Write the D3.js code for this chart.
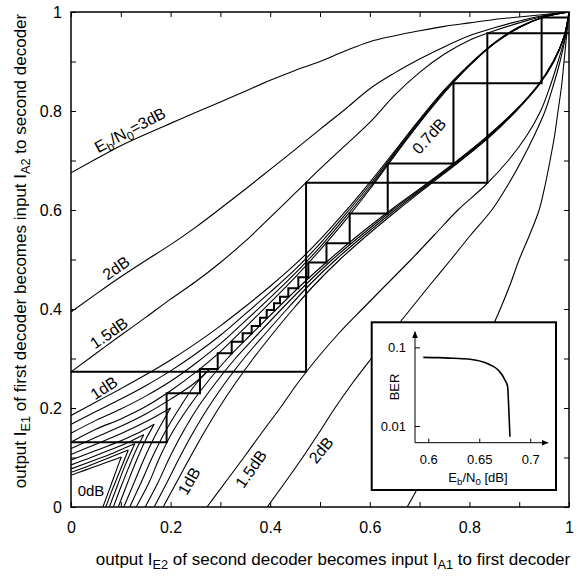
<!DOCTYPE html>
<html><head><meta charset="utf-8">
<script src="https://cdn.jsdelivr.net/npm/d3@7"></script>
<style>
body{margin:0;background:#fff;}
text{font-family:"Liberation Sans",Arial,Helvetica,sans-serif;fill:#000;}
</style></head><body>
<svg id="chart" width="581" height="576"></svg>
<script>
// ---------- data ----------
const iaGrid = [0,0.05,0.1,0.15,0.2,0.25,0.3,0.35,0.4,0.45,0.5,0.55,0.6,0.65,0.7,0.75,0.8,0.85,0.9,0.95,1];
const ie07 = [0.131,0.157,0.178,0.203,0.235,0.272,0.314,0.363,0.413,0.464,0.519,0.578,0.642,0.71,0.776,0.837,0.891,0.936,0.968,0.99,1];
const ie08 = [0.149,0.175,0.198,0.224,0.254,0.29,0.33,0.376,0.423,0.472,0.525,0.584,0.646,0.713,0.778,0.839,0.892,0.936,0.969,0.99,1];
const ie09 = [0.167,0.193,0.218,0.245,0.275,0.309,0.347,0.39,0.434,0.48,0.532,0.59,0.651,0.716,0.781,0.841,0.893,0.937,0.969,0.99,1];
const ie10 = [0.185,0.212,0.239,0.267,0.297,0.33,0.366,0.405,0.446,0.49,0.54,0.596,0.656,0.719,0.783,0.843,0.894,0.938,0.97,0.99,1];
const ie15 = [0.273,0.31,0.347,0.383,0.42,0.455,0.494,0.537,0.585,0.634,0.683,0.73,0.777,0.832,0.878,0.915,0.943,0.962,0.978,0.992,1];
const ie20 = [0.394,0.43,0.465,0.498,0.53,0.565,0.603,0.642,0.682,0.722,0.763,0.803,0.845,0.877,0.905,0.93,0.952,0.968,0.982,0.993,1];
const ie30 = [0.675,0.703,0.73,0.753,0.775,0.797,0.818,0.84,0.862,0.882,0.9,0.921,0.94,0.952,0.962,0.971,0.978,0.985,0.99,0.995,1];
// low-SNR curves end where they meet their mirror image
const ia00 = [0,0.03,0.06,0.085,0.101],  ie00 = [0.064,0.075,0.086,0.095,0.101];
const ia01 = [0,0.03,0.06,0.09,0.115],   ie01 = [0.07,0.081,0.093,0.105,0.115];
const ia02 = [0,0.04,0.08,0.11,0.128],   ie02 = [0.077,0.092,0.107,0.12,0.128];
const ia03 = [0,0.04,0.08,0.12,0.146],   ie03 = [0.085,0.1,0.116,0.133,0.146];
const ia04 = [0,0.05,0.1,0.14,0.167],    ie04 = [0.095,0.114,0.134,0.152,0.167];
const ia05 = [0,0.05,0.1,0.15,0.2],      ie05 = [0.106,0.127,0.148,0.172,0.2];
const ia06 = [0,0.05,0.1,0.15,0.2,0.25,0.28], ie06 = [0.118,0.141,0.163,0.188,0.218,0.252,0.28];
// decoding trajectories (I_E2 = I_A1 on x, I_E1 = I_A2 on y)
const trajSmallX = [0,0.192,0.259,0.2946,0.3227,0.3447,0.3628,0.3795,0.393,0.4076,0.4197,0.4364,0.4565,0.4766,0.513,0.5596,0.636,0.768,0.945,0.996];
const trajSmallY = [0.131,0.23,0.279,0.3105,0.334,0.3509,0.3657,0.3825,0.398,0.4115,0.4249,0.4418,0.464,0.494,0.533,0.593,0.694,0.856,0.989];
const trajBigX = [0,0.472,0.836,1.0];
const trajBigY = [0.273,0.655,0.957];
// axis ticks
const axisTicks = [0,0.1,0.2,0.3,0.4,0.5,0.6,0.7,0.8,0.9,1];
const axisTickLabels = ["0","","0.2","","0.4","","0.6","","0.8","","1"];
// inset BER curve
const berEb = [0.5951,0.61,0.625,0.641,0.6573,0.6686,0.6752,0.6778,0.679,0.6801];
const berVal = [0.0746,0.074,0.0725,0.0705,0.0626,0.0515,0.0385,0.0316,0.016,0.0073];
const insetYTicks = [0.1,0.01], insetYLabels = ["0.1","0.01"];
const insetXTicks = [0.6,0.65,0.7], insetXLabels = ["0.6","0.65","0.7"];

// ---------- drawing ----------
const svg = d3.select('#chart');
const P = {l:71,r:569,t:12,b:507};
const x = d3.scaleLinear().domain([0,1]).range([P.l,P.r]);
const y = d3.scaleLinear().domain([0,1]).range([P.b,P.t]);

const defs = svg.append('defs');
defs.append('clipPath').attr('id','clip').append('rect')
  .attr('x',P.l).attr('y',P.t).attr('width',P.r-P.l).attr('height',P.b-P.t);
defs.append('marker').attr('id','arr').attr('viewBox','0 0 10 10').attr('refX',9).attr('refY',5)
  .attr('markerWidth',7).attr('markerHeight',7).attr('markerUnits','userSpaceOnUse').attr('orient','auto')
  .append('path').attr('d','M0,1 L10,5 L0,9 Z').attr('fill','#000');

const gc = svg.append('g').attr('clip-path','url(#clip)')
  .attr('fill','none').attr('stroke','#000').attr('stroke-width',1.1);

const line1 = d3.line().x(d=>x(d[0])).y(d=>y(d[1])).curve(d3.curveMonotoneX);
const line2 = d3.line().x(d=>x(d[1])).y(d=>y(d[0])).curve(d3.curveMonotoneY);
function drawPair(xs, ys){
  const pts = xs.map((v,i)=>[v,ys[i]]);
  gc.append('path').attr('d', line1(pts));
  gc.append('path').attr('d', line2(pts));
}
[ie07,ie08,ie09,ie10,ie15,ie20,ie30].forEach(ys=>drawPair(iaGrid, ys));
[[ia00,ie00],[ia01,ie01],[ia02,ie02],[ia03,ie03],[ia04,ie04],[ia05,ie05],[ia06,ie06]]
  .forEach(([a,b])=>drawPair(a,b));

function stair(xs, ys){
  const pts=[];
  ys.forEach((v,i)=>{ pts.push([xs[i],v]); pts.push([xs[i+1],v]); });
  return pts;
}
const lineT = d3.line().x(d=>x(d[0])).y(d=>y(d[1]));
gc.append('path').attr('d', lineT(stair(trajSmallX,trajSmallY))).attr('stroke-width',2);
gc.append('path').attr('d', lineT(stair(trajBigX,trajBigY))).attr('stroke-width',2);

// axes
const fmt = (d,i)=>axisTickLabels[i];
function styleAxis(g){ g.select('.domain').remove(); g.selectAll('text').attr('font-size',16).attr('font-family','"Liberation Sans",Arial,sans-serif'); g.selectAll('line').attr('stroke','#000'); }
svg.append('g').attr('transform',`translate(0,${P.b})`)
  .call(d3.axisBottom(x).tickValues(axisTicks).tickFormat(fmt).tickSizeInner(-5).tickSizeOuter(0).tickPadding(15)).call(styleAxis);
svg.append('g').attr('transform',`translate(${P.l},0)`)
  .call(d3.axisLeft(y).tickValues(axisTicks).tickFormat(fmt).tickSizeInner(-5).tickSizeOuter(0).tickPadding(9)).call(styleAxis);
svg.append('g').attr('transform',`translate(0,${P.t})`)
  .call(d3.axisTop(x).tickValues(axisTicks).tickFormat('').tickSizeInner(-5).tickSizeOuter(0)).call(styleAxis);
svg.append('g').attr('transform',`translate(${P.r},0)`)
  .call(d3.axisRight(y).tickValues(axisTicks).tickFormat('').tickSizeInner(-5).tickSizeOuter(0)).call(styleAxis);
svg.append('rect').attr('x',P.l).attr('y',P.t).attr('width',P.r-P.l).attr('height',P.b-P.t)
  .attr('fill','none').attr('stroke','#000').attr('stroke-width',1.5);

// helper for text with subscripts: parts = [[text, isSub], ...]
function richText(g, parts, size){
  const t = g.append('text').attr('font-size',size);
  let sub=false;
  parts.forEach(([s,isSub])=>{
    const ts = t.append('tspan').text(s);
    if(isSub && !sub){ ts.attr('dy',size*0.25).attr('font-size',size*0.75); sub=true; }
    else if(isSub){ ts.attr('font-size',size*0.75); }
    else if(!isSub && sub){ ts.attr('dy',-size*0.25); sub=false; }
  });
  return t;
}

// axis titles
richText(svg.append('g').attr('transform','translate(333,565)'),
  [["output I",0],["E2",1],[" of second decoder becomes input I",0],["A1",1],[" to first decoder",0]],17)
  .attr('text-anchor','middle');
richText(svg.append('g').attr('transform','translate(26,251) rotate(-90)'),
  [["output I",0],["E1",1],[" of first decoder becomes input I",0],["A2",1],[" to second decoder",0]],17)
  .attr('text-anchor','middle');

// curve labels
function label(parts, cx, cy, rot, size){
  const g = svg.append('g').attr('transform',`translate(${cx},${cy}) rotate(${rot})`);
  richText(g, parts, size).attr('text-anchor','middle').attr('dy','0.35em');
}
label([["E",0],["b",1],["/N",0],["0",1],["=3dB",0]],130,130,-28,16);
label([["2dB",0]],116,268,-35,16);
label([["1.5dB",0]],109,333,-35,16);
label([["1dB",0]],104,388,-33,16);
label([["0.7dB",0]],429,136,-48,16);
label([["0dB",0]],91,491,0,15);
label([["1dB",0]],189,481,-60,16);
label([["1.5dB",0]],251,469,-55,16);
label([["2dB",0]],321,450,-50,16);

// ---------- inset ----------
const I = {l:371.7,t:322.3,r:556,b:490};
svg.append('rect').attr('x',I.l).attr('y',I.t).attr('width',I.r-I.l).attr('height',I.b-I.t)
  .attr('fill','#fff').attr('stroke','#000').attr('stroke-width',2);
const ix = d3.scaleLinear().domain([0.587,0.7174]).range([415,548]);
const iy = d3.scaleLog().domain([0.00614,0.158]).range([442.7,331.7]);
const gi = svg.append('g');
gi.append('line').attr('x1',415).attr('y1',442.7).attr('x2',415).attr('y2',331.7)
  .attr('stroke','#000').attr('marker-end','url(#arr)');
gi.append('line').attr('x1',415).attr('y1',442.7).attr('x2',548).attr('y2',442.7)
  .attr('stroke','#000').attr('marker-end','url(#arr)');
function styleI(g){ g.select('.domain').remove(); g.selectAll('text').attr('font-size',13).attr('font-family','"Liberation Sans",Arial,sans-serif'); g.selectAll('line').attr('stroke','#000'); }
gi.append('g').attr('transform','translate(415,0)')
  .call(d3.axisLeft(iy).tickValues(insetYTicks).tickFormat((d,i)=>insetYLabels[i]).tickSizeInner(-5).tickSizeOuter(0).tickPadding(9)).call(styleI);
gi.append('g').attr('transform','translate(0,442.7)')
  .call(d3.axisBottom(ix).tickValues(insetXTicks).tickFormat((d,i)=>insetXLabels[i]).tickSizeInner(-4).tickSizeOuter(0).tickPadding(12)).call(styleI);
gi.append('path').attr('d', d3.line().x((d,i)=>ix(berEb[i])).y(d=>iy(d)).curve(d3.curveMonotoneX)(berVal))
  .attr('fill','none').attr('stroke','#000').attr('stroke-width',1.6);
gi.append('text').attr('transform','translate(394,387) rotate(-90)').attr('text-anchor','middle')
  .attr('dy','0.35em').attr('font-size',13).text('BER');
richText(gi.append('g').attr('transform','translate(478,482)'),
  [["E",0],["b",1],["/N",0],["0",1],[" [dB]",0]],13).attr('text-anchor','middle');
</script>
</body></html>
